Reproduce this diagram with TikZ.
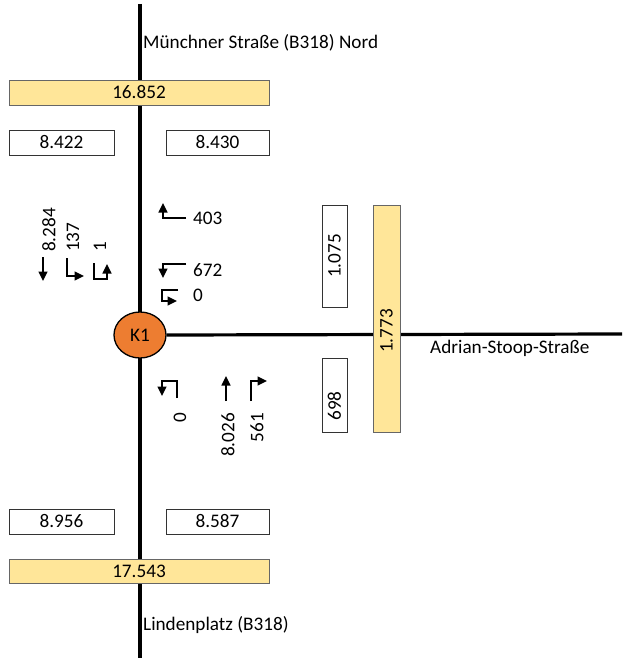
\documentclass[tikz,border=0pt]{standalone}
\usepackage{fontspec}
\setmainfont{Carlito}
\usetikzlibrary{arrows.meta,shapes.geometric,backgrounds}
\definecolor{ybar}{HTML}{FFE699}
\definecolor{kfill}{HTML}{ED7D31}
\begin{document}
\begin{tikzpicture}[x=1pt,y=-1pt,
  every node/.style={font=\fontsize{19.2}{22}\selectfont, inner sep=0pt},
  road/.style={line width=3.2pt},
  yellowbox/.style={draw=black!60, line width=0.9pt, fill=ybar},
  whitebox/.style={draw=black!80, line width=0.9pt, fill=white},
  turn/.style={line width=1.6pt, -{Triangle[length=9.5pt,width=9pt]}},
  rot/.style={rotate=90}]
\useasboundingbox (0,0) rectangle (625,658);
% junction
\node[ellipse, draw=black, line width=1.3pt, fill=kfill, minimum width=52pt, minimum height=46pt] (k1) at (140,335) {K1};
% street names
\node[anchor=west] (nname) at (143,43) {Münchner Straße (B318) Nord};
\node[anchor=west] (sname) at (143,625) {Lindenplatz (B318)};
\node[anchor=west] (ename) at (430,348) {Adrian-Stoop-Straße};
% top boxes
\node[yellowbox, minimum width=260pt, minimum height=25pt] (ntot) at (139,92.5) {16.852};
\node[whitebox, minimum width=105pt, minimum height=25pt] (nout) at (61.5,142.5) {8.422};
\node[whitebox, minimum width=103pt, minimum height=25pt] (nin) at (217.5,142.5) {8.430};
% bottom boxes
\node[whitebox, minimum width=105pt, minimum height=25pt] (sin) at (61.5,521.5) {8.956};
\node[whitebox, minimum width=103pt, minimum height=25pt] (sout) at (217.5,521.5) {8.587};
\node[yellowbox, minimum width=260pt, minimum height=24pt] (stot) at (139,571) {17.543};
% east boxes
\node[yellowbox, minimum width=27pt, minimum height=227pt] (etot) at (386.5,318.5) {};
\node[rot] (etott) at (386.5,331) {1.773};
\node[whitebox, rot, minimum width=102pt, minimum height=25pt] (ein) at (334.5,256) {1.075};
\node[whitebox, minimum width=25pt, minimum height=74pt] (eout) at (334.5,395) {};
\node[rot] (eoutt) at (334.5,406) {698};
% roads behind everything
\coordinate (ntop) at (140,4);
\coordinate (sbot) at (140,658);
\coordinate (eend) at (622,334);
\begin{scope}[on background layer]
\draw[road] (ntop) -- (sbot);
\draw[road] (k1.east) -- (eend);
\end{scope}
% north approach (left)
\draw[turn] (43,257) -- (43,281);
\draw[turn] (67,258) -- (67,276) -- (84,276);
\draw[turn] (94,263) -- (94,279) -- (107,279) -- (107,264);
\node[rot, anchor=west] (n1) at (49,252) {8.284};
\node[rot, anchor=west] (n2) at (73,252) {137};
\node[rot, anchor=west] (n3) at (100,252) {1};
% east approach (top right)
\draw[turn] (186,218) -- (163,218) -- (163,203);
\draw[turn] (186,264) -- (163,264) -- (163,278);
\draw[turn] (178,290) -- (162,290) -- (162,301) -- (177,301);
\node[anchor=west] (e1) at (193,218) {403};
\node[anchor=west] (e2) at (193,270) {672};
\node[anchor=west] (e3) at (193,295) {0};
% south approach (bottom right)
\draw[turn] (177,398) -- (177,381) -- (162,381) -- (162,396);
\draw[turn] (226,401) -- (226,376);
\draw[turn] (251,401) -- (251,381) -- (267,381);
\node[rot, anchor=east] (s1) at (180,413) {0};
\node[rot, anchor=east] (s2) at (228,413) {8.026};
\node[rot, anchor=east] (s3) at (257,413) {561};
\end{tikzpicture}
\end{document}
